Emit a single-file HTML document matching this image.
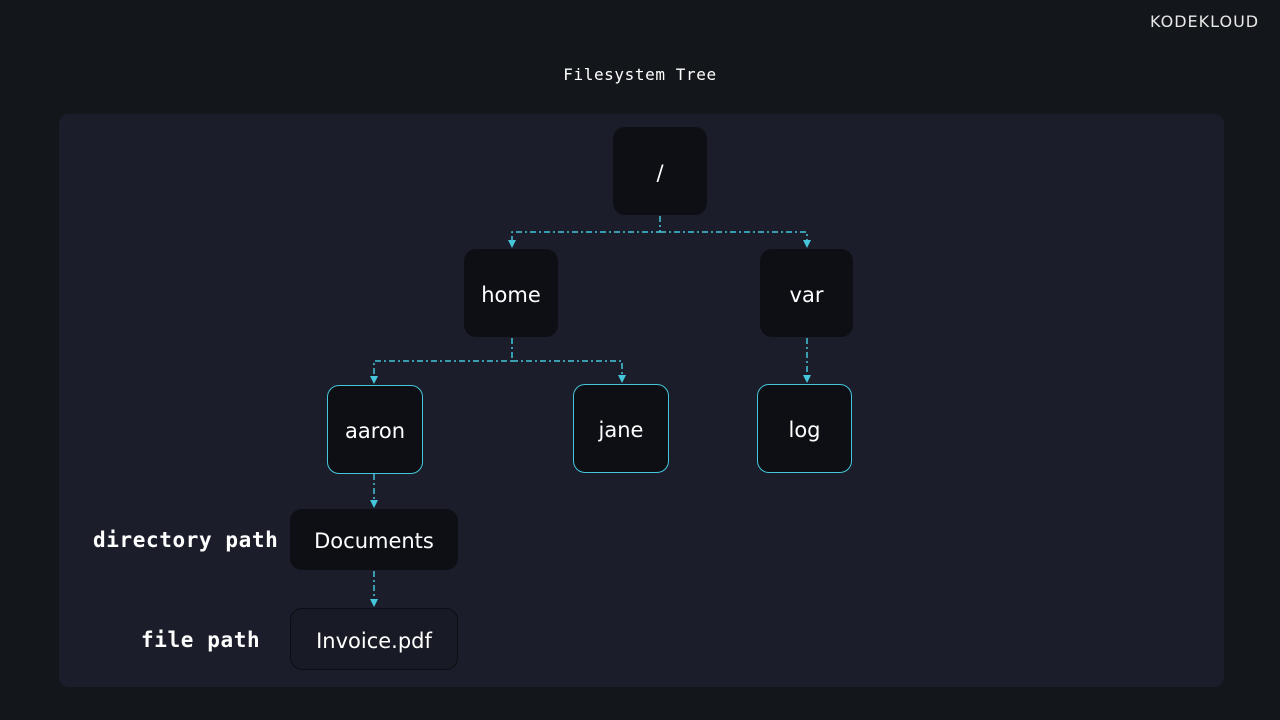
<!DOCTYPE html>
<html><head><meta charset="utf-8"><style>
body{margin:0;width:1280px;height:720px;background:#13171b;position:relative;overflow:hidden;font-family:"DejaVu Sans","Liberation Sans",sans-serif}
.panel{position:absolute;left:59px;top:114px;width:1165px;height:573px;background:#1b1e2a;border-radius:10px}
.b{position:absolute;background:#0d0f15;border-radius:12px;color:#fff;font-size:21px;display:flex;align-items:center;justify-content:center;box-sizing:border-box;padding-top:3px}
.c{border:1.5px solid #45c6da}
.t{position:absolute;color:#fff;font-family:"DejaVu Sans Mono","Liberation Mono",monospace}
</style></head><body>
<div class="panel"></div>
<div class="t" style="left:0;width:1280px;text-align:center;top:65px;font-size:16px;letter-spacing:0.6px">Filesystem Tree</div>
<div class="t" style="left:1150px;top:12px;font-family:'DejaVu Sans',sans-serif;font-size:16px;letter-spacing:1px;color:#e8e8e8">KODEKLOUD</div>
<div class="b" style="left:613px;top:127px;width:94px;height:88px">/</div>
<div class="b" style="left:464px;top:249px;width:94px;height:88px">home</div>
<div class="b" style="left:760px;top:249px;width:93px;height:88px">var</div>
<div class="b c" style="left:327px;top:385px;width:96px;height:89px">aaron</div>
<div class="b c" style="left:573px;top:384px;width:96px;height:89px">jane</div>
<div class="b c" style="left:757px;top:384px;width:95px;height:89px">log</div>
<div class="b" style="left:290px;top:509px;width:168px;height:61px">Documents</div>
<div class="b" style="left:290px;top:608px;width:168px;height:62px;background:#181b25;border:1.5px solid #0c0e13">Invoice.pdf</div>
<div class="t" style="left:93px;top:528px;font-size:21px;font-weight:bold;letter-spacing:0.6px">directory path</div>
<div class="t" style="left:141px;top:628px;font-size:21px;font-weight:bold;letter-spacing:0.6px">file path</div>
<svg width="1280" height="720" style="position:absolute;left:0;top:0">
<g stroke="#45c6da" stroke-width="1.5" fill="none" stroke-dasharray="6,3,2,3">
<path d="M660,216 V232 H512 V240"/><path d="M660,232 H807 V240"/>
<path d="M512,338 V361 H374 V376"/><path d="M512,361 H622 V375"/>
<path d="M807,338 V375"/>
<path d="M374,474 V500"/><path d="M374,571 V599"/>
</g>
<g fill="#45c6da">
<path d="M508,240 h8 l-4,8z"/><path d="M803,240 h8 l-4,8z"/>
<path d="M370,376 h8 l-4,8z"/><path d="M618,375 h8 l-4,8z"/><path d="M803,375 h8 l-4,8z"/>
<path d="M370,500 h8 l-4,8z"/><path d="M370,599 h8 l-4,8z"/>
</g>
</svg>
</body></html>
